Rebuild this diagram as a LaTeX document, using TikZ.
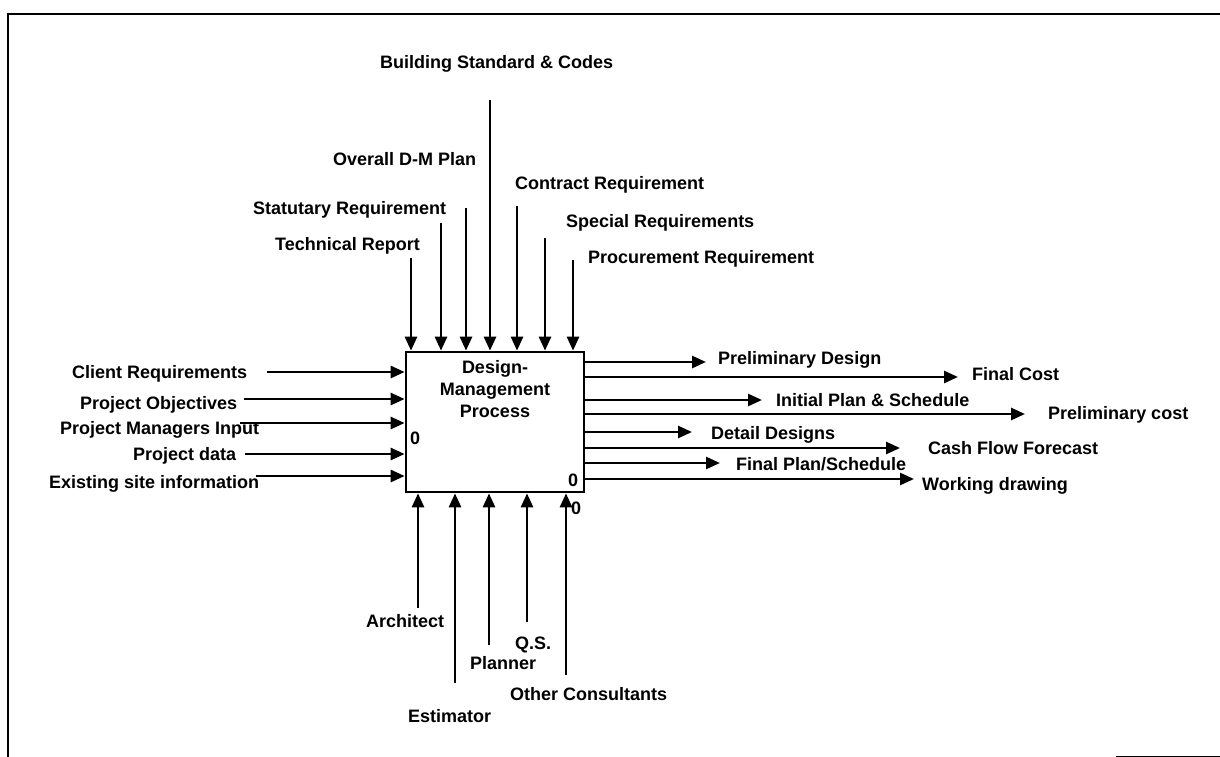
\documentclass[tikz,border=0pt]{standalone}
\usepackage{fontspec}
\setmainfont{Liberation Sans}
\usetikzlibrary{arrows.meta}
\begin{document}
\begin{tikzpicture}[x=1pt,y=-1pt,
  conn/.style={line width=2.7pt,-{Triangle[length=14pt,width=12pt]}},
  lbl/.style={anchor=base west,inner sep=0pt,font=\fontsize{18}{22}\selectfont\bfseries},
  frameline/.style={line width=2.8pt}]
\useasboundingbox (0,0) rectangle (1220,757);
% frame
\coordinate (fTR) at (1220,14);
\coordinate (fTL) at (8,14);
\coordinate (fBL) at (8,757);
\draw[frameline] (fTR) -- (fTL) -- (fBL);
\coordinate (fB1) at (1116,756);
\coordinate (fB2) at (1220,756);
\draw[line width=1pt] (fB1) -- (fB2);

% process box
\node[draw,line width=2.7pt,minimum width=178pt,minimum height=140pt,inner sep=0pt] (box) at (495,422) {};
\node[align=center,inner sep=0pt,font=\fontsize{18}{22}\selectfont\bfseries] (title) at (495,389) {Design-\\Management\\Process};
\node[lbl] (zL) at (410,444) {0};
\node[lbl] (zR) at (568,486) {0};
\node[lbl] (zB) at (571,514) {0};

% controls (top)
\node[lbl] (tBuild) at (380,69) {Building Standard \& Codes};
\node[lbl] (tOver) at (333,165) {Overall D-M Plan};
\node[lbl] (tContr) at (515,189) {Contract Requirement};
\node[lbl] (tStat) at (253,214) {Statutary Requirement};
\node[lbl] (tSpec) at (566,227) {Special Requirements};
\node[lbl] (tTech) at (275,250) {Technical Report};
\node[lbl] (tProc) at (588,263) {Procurement Requirement};
\coordinate (c1) at (411,258);
\coordinate (c2) at (441,223);
\coordinate (c3) at (466,208);
\coordinate (c4) at (490,100);
\coordinate (c5) at (517,206);
\coordinate (c6) at (545,238);
\coordinate (c7) at (573,260);
\foreach \c in {c1,c2,c3,c4,c5,c6,c7}
  \draw[conn] (\c) -- (\c |- box.north);

% inputs (left)
\node[lbl] (iClient) at (72,378) {Client Requirements};
\node[lbl] (iObj) at (80,409) {Project Objectives};
\node[lbl] (iPM) at (60,434) {Project Managers Input};
\node[lbl] (iData) at (133,460) {Project data};
\node[lbl] (iSite) at (49,488) {Existing site information};
\coordinate (i1) at (267,372);
\coordinate (i2) at (244,399);
\coordinate (i3) at (240,423);
\coordinate (i4) at (245,454);
\coordinate (i5) at (256,476);
\foreach \i in {i1,i2,i3,i4,i5}
  \draw[conn] (\i) -- (\i -| box.west);

% outputs (right)
\node[lbl] (oPD) at (718,364) {Preliminary Design};
\node[lbl] (oFC) at (972,380) {Final Cost};
\node[lbl] (oIP) at (776,406) {Initial Plan \& Schedule};
\node[lbl] (oPC) at (1048,419) {Preliminary cost};
\node[lbl] (oDD) at (711,439) {Detail Designs};
\node[lbl] (oCF) at (928,454) {Cash Flow Forecast};
\node[lbl] (oFP) at (736,470) {Final Plan/Schedule};
\node[lbl] (oWD) at (922,490) {Working drawing};
\coordinate (o1) at (706,362);
\coordinate (o2) at (958,377);
\coordinate (o3) at (762,400);
\coordinate (o4) at (1025,414);
\coordinate (o5) at (692,432);
\coordinate (o6) at (900,448);
\coordinate (o7) at (720,463);
\coordinate (o8) at (914,479);
\foreach \o in {o1,o2,o3,o4,o5,o6,o7,o8}
  \draw[conn] (box.east |- \o) -- (\o);

% mechanisms (bottom)
\node[lbl] (mArch) at (366,627) {Architect};
\node[lbl] (mEst) at (408,722) {Estimator};
\node[lbl] (mPlan) at (470,669) {Planner};
\node[lbl] (mQS) at (515,649) {Q.S.};
\node[lbl] (mOther) at (510,700) {Other Consultants};
\coordinate (m1) at (418,608);
\coordinate (m2) at (455,683);
\coordinate (m3) at (489,645);
\coordinate (m4) at (527,622);
\coordinate (m5) at (566,675);
\foreach \m in {m1,m2,m3,m4,m5}
  \draw[conn] (\m) -- (\m |- box.south);
\end{tikzpicture}
\end{document}
